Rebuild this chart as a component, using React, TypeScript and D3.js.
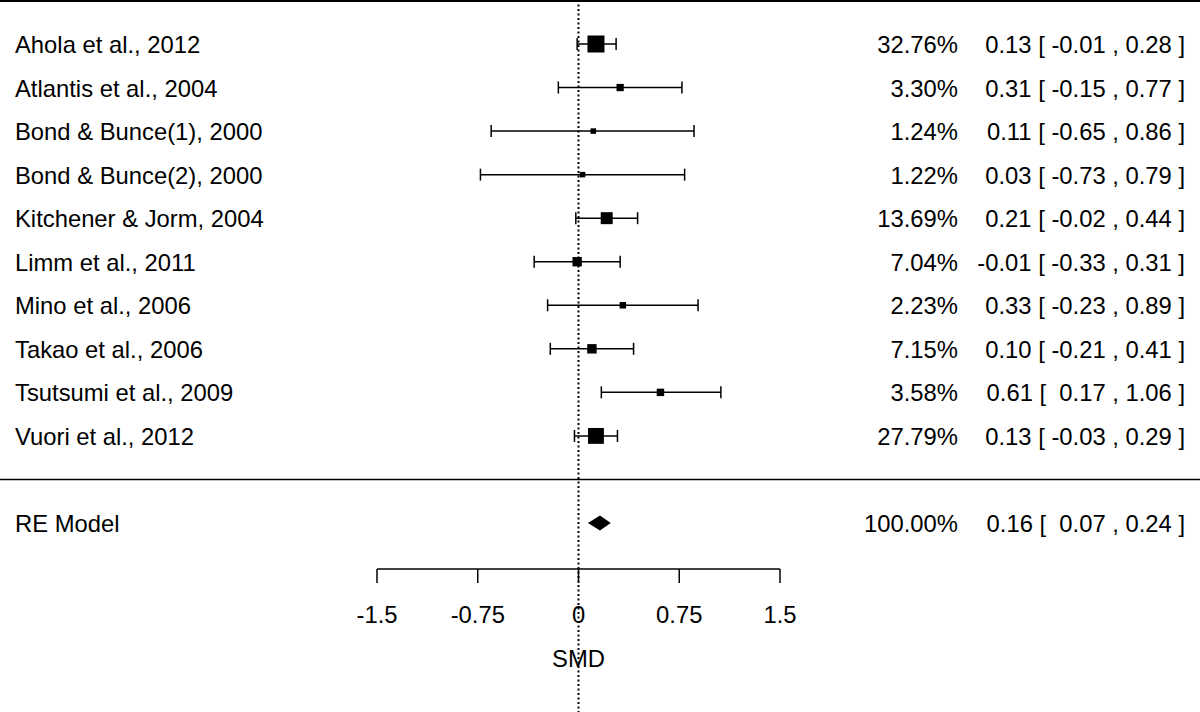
import React from "react";
import * as d3 from "d3";

const studies = [
  "Ahola et al., 2012",
  "Atlantis et al., 2004",
  "Bond & Bunce(1), 2000",
  "Bond & Bunce(2), 2000",
  "Kitchener & Jorm, 2004",
  "Limm et al., 2011",
  "Mino et al., 2006",
  "Takao et al., 2006",
  "Tsutsumi et al., 2009",
  "Vuori et al., 2012",
];
const estimates = [0.13, 0.31, 0.11, 0.03, 0.21, -0.01, 0.33, 0.1, 0.61, 0.13];
const lowers = [-0.01, -0.15, -0.65, -0.73, -0.02, -0.33, -0.23, -0.21, 0.17, -0.03];
const uppers = [0.28, 0.77, 0.86, 0.79, 0.44, 0.31, 0.89, 0.41, 1.06, 0.29];
const weights = [32.76, 3.3, 1.24, 1.22, 13.69, 7.04, 2.23, 7.15, 3.58, 27.79];

const reLabel = "RE Model";
const reEstimate = 0.16;
const reLower = 0.07;
const reUpper = 0.24;
const reWeight = 100.0;

const tickValues = [-1.5, -0.75, 0, 0.75, 1.5];
const tickLabels = ["-1.5", "-0.75", "0", "0.75", "1.5"];
const xLabel = "SMD";

const W = 1200;
const H = 712;
const FONT = "'Liberation Sans', Arial, Helvetica, sans-serif";
const FS = 23.8;

function pad(v: number): string {
  const s = v.toFixed(2);
  return v < 0 ? s : " " + s;
}
function ciText(e: number, lo: number, hi: number): string {
  return `${e.toFixed(2)} [ ${pad(lo)} , ${hi.toFixed(2)} ]`;
}

export default function App() {
  const x = d3.scaleLinear().domain([-1.5, 1.5]).range([377, 780]);
  const k = studies.length;
  const y = d3.scaleLinear().domain([k, -1]).range([44, 523]);
  const sizeScale = d3
    .scaleLinear()
    .domain([Math.sqrt(d3.min(weights)!), Math.sqrt(d3.max(weights)!)])
    .range([5.5, 17]);
  const axisY = 569;
  const capH = 6;

  return (
    <svg
      width={W}
      height={H}
      style={{ position: "absolute", left: 0, top: 0, background: "#fff" }}
      fontFamily={FONT}
      fontSize={FS}
    >
      <rect x={0} y={0} width={W} height={H} fill="#fff" />
      <line x1={0} x2={W} y1={1} y2={1} stroke="#000" strokeWidth={2} />
      <line x1={0} x2={W} y1={y(0)} y2={y(0)} stroke="#000" strokeWidth={1.6} />
      <line
        x1={x(0)}
        x2={x(0)}
        y1={0}
        y2={H}
        stroke="#000"
        strokeWidth={2}
        strokeDasharray="2 2.5"
      />
      {studies.map((s, i) => {
        const row = k - i;
        const cy = y(row);
        const sz = sizeScale(Math.sqrt(weights[i]));
        return (
          <g key={s}>
            <text x={15} y={cy + 9} fill="#000">
              {s}
            </text>
            <line x1={x(lowers[i])} x2={x(uppers[i])} y1={cy} y2={cy} stroke="#000" strokeWidth={1.5} />
            <line x1={x(lowers[i])} x2={x(lowers[i])} y1={cy - capH} y2={cy + capH} stroke="#000" strokeWidth={1.5} />
            <line x1={x(uppers[i])} x2={x(uppers[i])} y1={cy - capH} y2={cy + capH} stroke="#000" strokeWidth={1.5} />
            <rect x={x(estimates[i]) - sz / 2} y={cy - sz / 2} width={sz} height={sz} fill="#000" />
            <text x={958} y={cy + 9} textAnchor="end" fill="#000">
              {weights[i].toFixed(2) + "%"}
            </text>
            <text x={1185} y={cy + 9} textAnchor="end" fill="#000" xmlSpace="preserve" style={{ whiteSpace: "pre" }}>
              {ciText(estimates[i], lowers[i], uppers[i])}
            </text>
          </g>
        );
      })}
      <g>
        <text x={15} y={y(-1) + 9} fill="#000">
          {reLabel}
        </text>
        <polygon
          points={[
            [x(reLower), y(-1)],
            [x(reEstimate), y(-1) - 7.5],
            [x(reUpper), y(-1)],
            [x(reEstimate), y(-1) + 7.5],
          ]
            .map((p) => p.join(","))
            .join(" ")}
          fill="#000"
        />
        <text x={958} y={y(-1) + 9} textAnchor="end" fill="#000">
          {reWeight.toFixed(2) + "%"}
        </text>
        <text x={1185} y={y(-1) + 9} textAnchor="end" fill="#000" xmlSpace="preserve" style={{ whiteSpace: "pre" }}>
          {ciText(reEstimate, reLower, reUpper)}
        </text>
      </g>
      <line x1={x(-1.5)} x2={x(1.5)} y1={axisY} y2={axisY} stroke="#000" strokeWidth={1.5} />
      {tickValues.map((t, i) => (
        <g key={t}>
          <line x1={x(t)} x2={x(t)} y1={axisY} y2={axisY + 14} stroke="#000" strokeWidth={1.5} />
          <text x={x(t)} y={623} textAnchor="middle" fill="#000">
            {tickLabels[i]}
          </text>
        </g>
      ))}
      <text x={x(0)} y={667} textAnchor="middle" fill="#000">
        {xLabel}
      </text>
    </svg>
  );
}
